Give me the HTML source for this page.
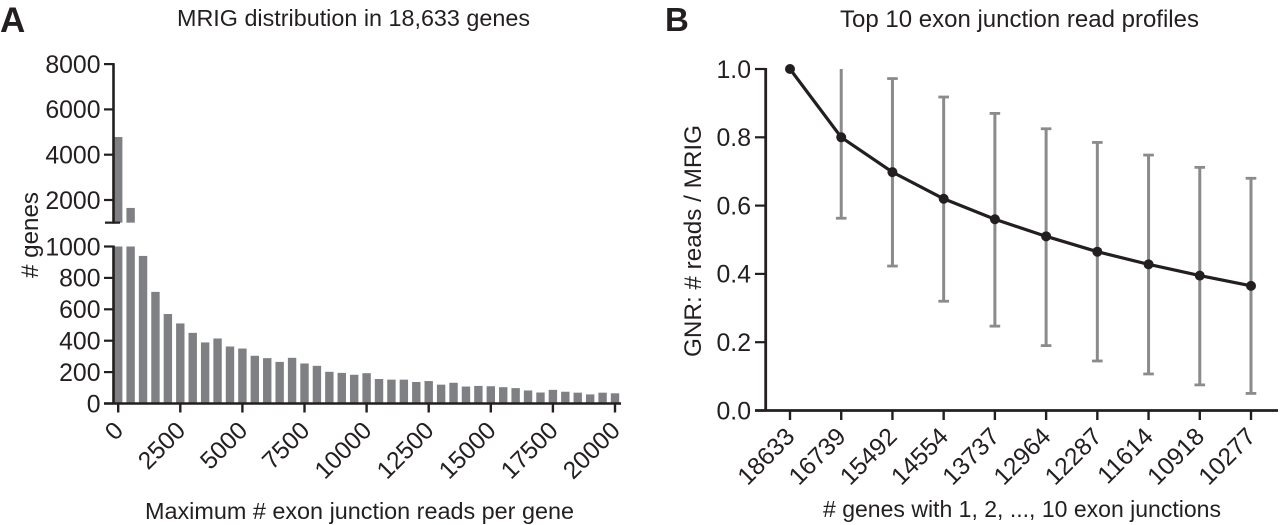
<!DOCTYPE html>
<html lang="en">
<head>
<meta charset="utf-8">
<title>MRIG distribution and exon junction read profiles</title>
<style>
html,body{margin:0;padding:0;background:#fff;width:1280px;height:525px;overflow:hidden}
svg{display:block}
text{font-family:"Liberation Sans",Arial,sans-serif;fill:#231f20}
</style>
</head>
<body>
<svg id="fig" xmlns="http://www.w3.org/2000/svg" width="1280" height="525" viewBox="0 0 1280 525">
  <text x="0" y="32" font-size="35" font-weight="bold">A</text>
  <text x="665" y="31" font-size="33" font-weight="bold">B</text>
  <text x="177" y="26" font-size="23.3" textLength="353" lengthAdjust="spacingAndGlyphs">MRIG distribution in 18,633 genes</text>
  <text x="840" y="27" font-size="23.6" textLength="359" lengthAdjust="spacingAndGlyphs">Top 10 exon junction read profiles</text>
  <text x="145" y="519" font-size="23.4" textLength="429" lengthAdjust="spacingAndGlyphs">Maximum # exon junction reads per gene</text>
  <text x="823" y="517" font-size="23" textLength="398" lengthAdjust="spacingAndGlyphs"># genes with 1, 2, ..., 10 exon junctions</text>
  <text transform="translate(38,278) rotate(-90)" font-size="24" textLength="86" lengthAdjust="spacingAndGlyphs"># genes</text>
  <text transform="translate(701,357) rotate(-90)" font-size="24" textLength="232" lengthAdjust="spacingAndGlyphs">GNR: # reads / MRIG</text>
  <g id="chart-a"></g>
  <g id="chart-b"></g>
</svg>
<script>
// Panel A data
var binValues = [4780,1650,940,711,570,510,450,389,414,363,350,304,289,265,291,255,240,202,195,183,193,156,152,152,137,143,120,132,108,112,110,104,98,83,70,87,75,69,58,69,65];
var binWidthReads = 500;
var xTicksA = [0,2500,5000,7500,10000,12500,15000,17500,20000];
var yTicksLower = [0,200,400,600,800,1000];
var yTicksUpper = [2000,4000,6000,8000];

// Panel B data
var geneCounts = ["18633","16739","15492","14554","13737","12964","12287","11614","10918","10277"];
var meanValues = [1,0.8,0.698,0.62,0.56,0.51,0.465,0.428,0.395,0.365];
var upperValues = [null,1,0.972,0.918,0.87,0.825,0.785,0.748,0.712,0.68];
var lowerValues = [null,0.563,0.423,0.32,0.247,0.19,0.145,0.107,0.075,0.05];
var yTicksB = [0,0.2,0.4,0.6,0.8,1];

var NS = 'http://www.w3.org/2000/svg';
var INK = '#231f20';
function mk(parent, tag, attrs, txt) {
  var el = document.createElementNS(NS, tag);
  for (var k in attrs) el.setAttribute(k, attrs[k]);
  if (txt !== undefined) el.textContent = txt;
  parent.appendChild(el);
  return el;
}

var a = document.getElementById('chart-a');
var xA = function (reads) { return 118.2 + reads * (615 - 118.2) / 20000; };
var yLower = function (v) { return 403.5 - v * 0.157; };
var yUpper = function (v) { return 200 - (v - 2000) * 0.02265; };
var breakValue = 1000;

binValues.forEach(function (v, i) {
  var cx = xA(i * binWidthReads), w = 8.4, r;
  if (v > breakValue) {
    r = mk(a, 'rect', {x: cx - w / 2, y: yUpper(v), width: w, height: yUpper(breakValue) - yUpper(v), fill: '#7f8083'});
    
    
  }
  var shown = Math.min(v, breakValue);
  r = mk(a, 'rect', {x: cx - w / 2, y: yLower(shown), width: w, height: yLower(0) - yLower(shown), fill: '#7f8083'});
  
  
});

var axisLeftA = 113.5;
var line;
line = mk(a, 'line', {x1: axisLeftA, x2: axisLeftA, y1: yUpper(8000) - 1, y2: yUpper(breakValue) + 1, stroke: INK, 'stroke-width': 2.6});


line = mk(a, 'line', {x1: axisLeftA, x2: axisLeftA, y1: yLower(1000) - 1, y2: yLower(0) + 1, stroke: INK, 'stroke-width': 2.6});


line = mk(a, 'line', {x1: 104, x2: 621, y1: yLower(0), y2: yLower(0), stroke: INK, 'stroke-width': 2.6});


line = mk(a, 'line', {x1: 105, x2: 120, y1: yUpper(breakValue), y2: yUpper(breakValue), stroke: INK, 'stroke-width': 2.2});



function yTickA(v, yf) {
  var y = yf(v);
  var t = mk(a, 'line', {x1: 104, x2: axisLeftA, y1: y, y2: y, stroke: INK, 'stroke-width': 2.2});
  
  
  var l = mk(a, 'text', {x: 100.5, y: y + 8.8, 'font-size': 24.8, 'text-anchor': 'end'}, String(v));
  
  
}
yTicksLower.forEach(function (v) { yTickA(v, yLower); });
yTicksUpper.forEach(function (v) { yTickA(v, yUpper); });

xTicksA.forEach(function (v) {
  var x = xA(v);
  var t = mk(a, 'line', {x1: x, x2: x, y1: yLower(0), y2: 412.5, stroke: INK, 'stroke-width': 2.4});
  
  
  var l = mk(a, 'text', {'font-size': 24.6, 'text-anchor': 'end', transform: 'translate(' + (x + 6.5) + ',432) rotate(-45)'}, String(v));
  
  
});

var b = document.getElementById('chart-b');
var xB = function (i) { return 790 + i * (1251 - 790) / (geneCounts.length - 1); };
var yB = function (v) { return 410.5 - v * 341.5; };
var GREY = '#8a8b8c';

geneCounts.forEach(function (g, i) {
  if (upperValues[i] === null) return;
  var x = xB(i), e;
  e = mk(b, 'line', {x1: x, x2: x, y1: yB(upperValues[i]), y2: yB(lowerValues[i]), stroke: GREY, 'stroke-width': 3});
  
  
  if (upperValues[i] < 1) {
    e = mk(b, 'line', {x1: x - 5.3, x2: x + 5.3, y1: yB(upperValues[i]), y2: yB(upperValues[i]), stroke: GREY, 'stroke-width': 2.8});
    
    
  }
  e = mk(b, 'line', {x1: x - 5.3, x2: x + 5.3, y1: yB(lowerValues[i]), y2: yB(lowerValues[i]), stroke: GREY, 'stroke-width': 2.8});
  
  
});

var pts = meanValues.map(function (v, i) { return xB(i) + ',' + yB(v); }).join(' ');
var poly = mk(b, 'polyline', {points: pts, fill: 'none', stroke: INK, 'stroke-width': 3.2, 'stroke-linejoin': 'round'});


meanValues.forEach(function (v, i) {
  var c = mk(b, 'circle', {cx: xB(i), cy: yB(v), r: 5, fill: INK});
  
  
});

line = mk(b, 'line', {x1: 765.7, x2: 765.7, y1: yB(1) - 1, y2: yB(0) + 1, stroke: INK, 'stroke-width': 2.8});


line = mk(b, 'line', {x1: 755, x2: 1278, y1: yB(0), y2: yB(0), stroke: INK, 'stroke-width': 2.8});



yTicksB.forEach(function (v) {
  var y = yB(v);
  var t = mk(b, 'line', {x1: 755, x2: 765.7, y1: y, y2: y, stroke: INK, 'stroke-width': 2.2});
  
  
  var l = mk(b, 'text', {x: 751, y: y + 8.8, 'font-size': 24.8, 'text-anchor': 'end'}, v.toFixed(1));
  
  
});

geneCounts.forEach(function (g, i) {
  var x = xB(i);
  var t = mk(b, 'line', {x1: x, x2: x, y1: yB(0), y2: 420, stroke: INK, 'stroke-width': 2.4});
  
  
  var l = mk(b, 'text', {'font-size': 24.6, 'text-anchor': 'end', transform: 'translate(' + (x + 6) + ',438) rotate(-45)'}, g);
  
  
});
</script>
</body>
</html>
